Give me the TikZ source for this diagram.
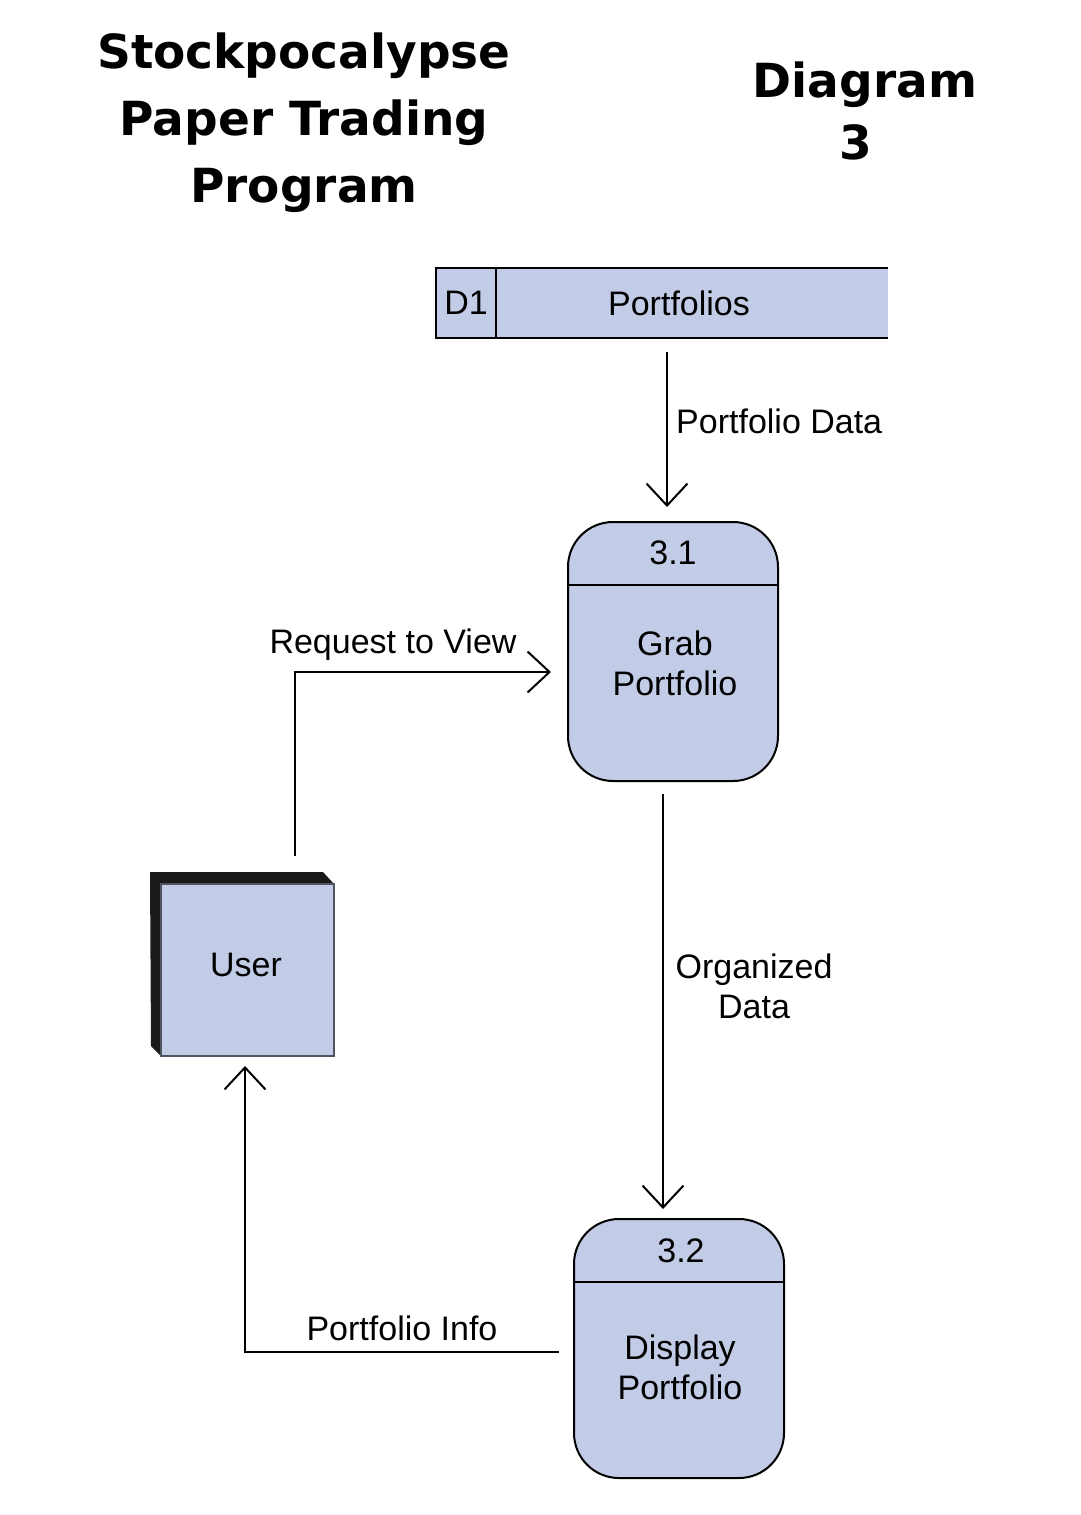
\documentclass[tikz,border=0pt]{standalone}
\usepackage{fontspec}
\setmainfont{Liberation Sans}
\newfontfamily\titlefont{DejaVu Sans}
\usetikzlibrary{arrows.meta}
\definecolor{dfdblue}{RGB}{194,204,230}
\definecolor{shadowdark}{RGB}{28,26,26}
\definecolor{facegray}{RGB}{80,84,96}
\begin{document}
\begin{tikzpicture}[x=1pt,y=-1pt,
  proc/.style={draw, line width=2pt, fill=dfdblue, rounded corners=45pt, minimum width=210pt, minimum height=259pt, inner sep=0pt},
  flow/.style={line width=2pt, -{Straight Barb[length=22pt,width=41pt,line width=2pt]}},
  lbl/.style={font=\fontsize{34}{40}\selectfont, inner sep=0pt, align=center},
  ttl/.style={font=\titlefont\bfseries\fontsize{47}{67}\selectfont, inner sep=0pt, align=center}]
\useasboundingbox[fill=white] (0,0) rectangle (1080,1515);

% titles
\node[ttl] (title) at (304,123) {Stockpocalypse\\Paper Trading\\Program};
\node[ttl] (diag) at (865,85) {Diagram};
\node[ttl] (diagnum) at (856,142) {3};

% data store
\node[fill=dfdblue, minimum width=452pt, minimum height=70pt, inner sep=0pt] (ds) at (662,303) {};
\draw[line width=2pt] (ds.north east) -- (ds.north west) -- (ds.south west) -- (ds.south east);
\draw[line width=1.5pt] ([xshift=60pt]ds.north west) -- ([xshift=60pt]ds.south west);
\node[lbl] (dsid) at (466,303) {D1};
\node[lbl] (dsname) at (679,303) {Portfolios};

% process 3.1
\node[proc] (p1) at (673,651.5) {};
\draw[line width=1.5pt] ([yshift=-64pt]p1.north west) -- ([yshift=-64pt]p1.north east);
\node[lbl] (p1num) at (673,553) {3.1};
\node[lbl] (p1txt) at (675,663) {Grab\\Portfolio};

% process 3.2
\node[proc] (p2) at (679,1348.5) {};
\draw[line width=1.5pt] ([yshift=-64pt]p2.north west) -- ([yshift=-64pt]p2.north east);
\node[lbl] (p2num) at (681,1251) {3.2};
\node[lbl] (p2txt) at (680,1367) {Display\\Portfolio};

% user external entity
\fill[shadowdark] (150,872) -- (323,872) -- (334,884) -- (161,884) -- (161,1056) -- (151,1046) -- cycle;
\node[draw=facegray, line width=2pt, fill=dfdblue, minimum width=173pt, minimum height=172pt, inner sep=0pt] (user) at (247.5,970) {};
\node[lbl] (usertxt) at (246,965) {User};

% flows
\draw[flow] ([xshift=5pt,yshift=-14pt]ds.south) -- ([xshift=-6pt,yshift=14pt]p1.north);
\node[lbl, anchor=west] (l1) at (676,421) {Portfolio Data};

\draw[flow] ([xshift=47.5pt,yshift=27pt]user.north) |- ([xshift=-16pt,yshift=-20.5pt]p1.west);
\node[lbl] (l2) at (393,645) {Request to View};

\draw[flow] ([xshift=-10pt,yshift=-12pt]p1.south) -- ([xshift=-16pt,yshift=9pt]p2.north);
\node[lbl] (l3) at (754,986) {Organized\\Data};

\draw[flow] ([xshift=-14pt,yshift=-3.5pt]p2.west) -| ([xshift=-2.5pt,yshift=-9pt]user.south);
\node[lbl] (l4) at (402,1328) {Portfolio Info};
\end{tikzpicture}
\end{document}
